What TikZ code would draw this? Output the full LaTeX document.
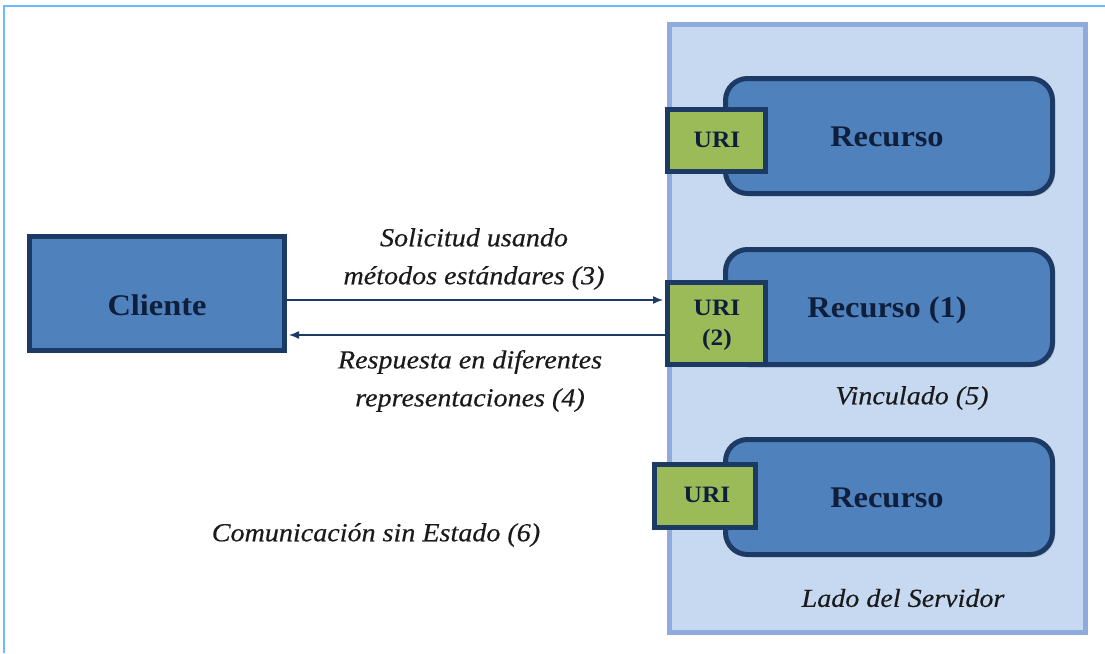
\documentclass[tikz,border=0pt]{standalone}
\usepackage{fontspec}
\setmainfont{Liberation Serif}
\newfontfamily\lbl{Liberation Serif}[FakeStretch=1.08]
\newfontfamily\ilbl{Liberation Serif}[FakeStretch=1.08, FakeBold=0.4]
\usetikzlibrary{shadows,arrows.meta}
\definecolor{frameblue}{HTML}{6FB7FF}
\definecolor{panelfill}{HTML}{C6D9F1}
\definecolor{panelline}{HTML}{8FAADC}
\definecolor{resfill}{HTML}{4F81BD}
\definecolor{navy}{HTML}{1C3A63}
\definecolor{urifill}{HTML}{9BBB59}
\definecolor{textnavy}{HTML}{0F1F3B}
\definecolor{textblack}{HTML}{1A1A1A}
\tikzset{
  shad/.style={drop shadow={opacity=0.28, shadow xshift=2.5pt, shadow yshift=-2.5pt}},
  panel/.style={draw=panelline, fill=panelfill, line width=5pt, shad},
  resbox/.style={draw=navy, fill=resfill, line width=5pt, rounded corners=22pt, shad},
  clibox/.style={draw=navy, fill=resfill, line width=5pt, shad},
  uribox/.style={draw=navy, fill=urifill, line width=5pt, shad},
  boldtxt/.style={text=textnavy, font=\lbl\bfseries\fontsize{30}{34}\selectfont, inner sep=0pt},
  uritxt/.style={text=textnavy, font=\lbl\bfseries\fontsize{23.5}{30}\selectfont, align=center, inner sep=0pt},
  itxt/.style={text=textblack, font=\ilbl\itshape\fontsize{26}{38}\selectfont, align=center, inner sep=0pt},
  conn/.style={draw=navy, line width=1.4pt, -{Latex[length=10pt,width=8pt]}},
}
\begin{document}
\begin{tikzpicture}[x=1pt,y=-1pt]
\useasboundingbox (0,0) rectangle (1105,653);
\fill[white] (0,0) rectangle (1105,653);
% outer frame
\draw[frameblue, line width=2pt] (4,653) -- (4,6) -- (1105,6);
% server panel
\node[panel, minimum width=416pt, minimum height=608pt, inner sep=0pt] (panel) at (877.5,328.5) {};
% resources
\node[resbox, minimum width=327pt, minimum height=115pt, inner sep=0pt] (res1) at (889,136) {};
\node[resbox, minimum width=327pt, minimum height=115pt, inner sep=0pt] (res2) at (889,307) {};
\node[resbox, minimum width=327pt, minimum height=115pt, inner sep=0pt] (res3) at (889,497) {};
\node[boldtxt] (res1t) at (887,137) {Recurso};
\node[boldtxt] (res2t) at (887,310) {Recurso (1)};
\node[boldtxt] (res3t) at (887,498) {Recurso};
% URIs
\node[uribox, minimum width=98pt, minimum height=62pt, inner sep=0pt] (uri1) at (716.5,140.5) {};
\node[uribox, minimum width=98pt, minimum height=82pt, inner sep=0pt] (uri2) at (716.5,323.5) {};
\node[uribox, minimum width=101pt, minimum height=63pt, inner sep=0pt] (uri3) at (705,496) {};
\node[uritxt] (uri1t) at (717,140) {URI};
\node[uritxt] (uri2t) at (717,325) {URI\\(2)};
\node[uritxt] (uri3t) at (707,495) {URI};
% client
\node[clibox, minimum width=255pt, minimum height=114pt, inner sep=0pt] (cli) at (157,293.5) {};
\node[boldtxt] (clit) at (157,305) {Cliente};
% connectors
\coordinate (ya) at (0,300);
\coordinate (yb) at (0,335);
\draw[conn, shorten >=2pt] (cli.east |- ya) -- (uri2.west |- ya);
\draw[conn, shorten >=2pt] (uri2.west |- yb) -- (cli.east |- yb);
% labels
\node[itxt] (req) at (474,259) {Solicitud usando\\métodos estándares (3)};
\node[itxt] (resp) at (470,381) {Respuesta en diferentes\\representaciones (4)};
\node[itxt] (vinc) at (912,398) {Vinculado (5)};
\node[itxt] (lado) at (903,598) {Lado del Servidor};
\node[itxt] (com) at (376,535) {Comunicación sin Estado (6)};
\end{tikzpicture}
\end{document}
